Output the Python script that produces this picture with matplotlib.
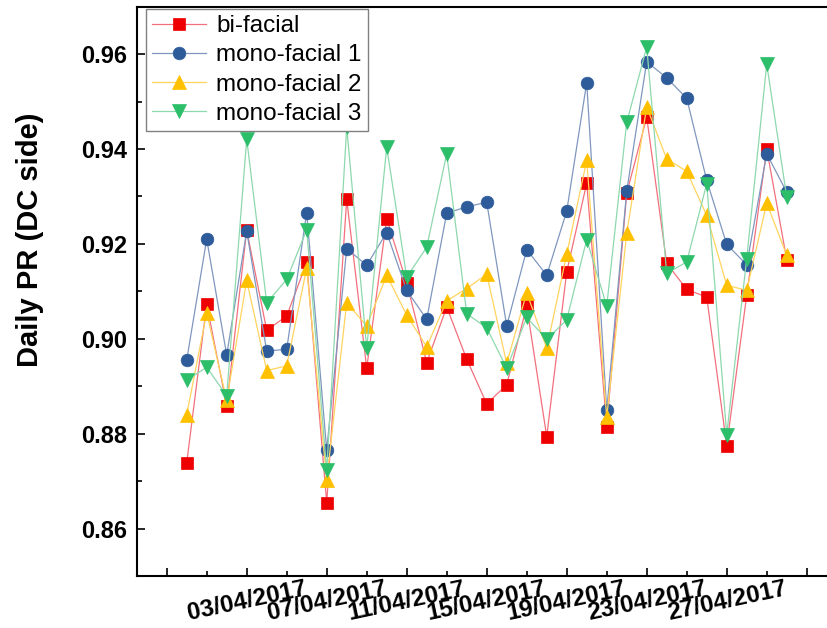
import matplotlib
matplotlib.use("Agg")
import matplotlib.pyplot as plt
import matplotlib.dates as mdates
from matplotlib.ticker import FixedLocator, MultipleLocator, FormatStrFormatter
import pandas as pd

plt.rcParams['font.family'] = ['Liberation Sans', 'DejaVu Sans']

# Daily performance ratio, 31/03/2017 - 30/04/2017
dates = pd.date_range("2017-03-31", "2017-04-30", freq="D")

bi_facial = [0.8738, 0.9073, 0.8859, 0.9229, 0.9018, 0.9048, 0.9161, 0.8654,
             0.9294, 0.8938, 0.9253, 0.9118, 0.8950, 0.9067, 0.8957, 0.8863,
             0.8903, 0.9069, 0.8794, 0.9141, 0.9328, 0.8814, 0.9307, 0.9467,
             0.9159, 0.9104, 0.9088, 0.8775, 0.9092, 0.9400, 0.9167]
mono_facial_1 = [0.8955, 0.9210, 0.8966, 0.9227, 0.8974, 0.8978, 0.9266, 0.8765,
                 0.9190, 0.9155, 0.9224, 0.9102, 0.9041, 0.9265, 0.9278, 0.9288,
                 0.9027, 0.9188, 0.9134, 0.9269, 0.9540, 0.8849, 0.9311, 0.9584,
                 0.9550, 0.9507, 0.9334, 0.9199, 0.9156, 0.9390, 0.9309]
mono_facial_2 = [0.8840, 0.9055, 0.8870, 0.9123, 0.8933, 0.8943, 0.9149, 0.8703,
                 0.9076, 0.9027, 0.9134, 0.9050, 0.8983, 0.9080, 0.9106, 0.9136,
                 0.8948, 0.9097, 0.8980, 0.9178, 0.9376, 0.8835, 0.9222, 0.9489,
                 0.9379, 0.9353, 0.9260, 0.9113, 0.9102, 0.9286, 0.9176]
mono_facial_3 = [0.8913, 0.8940, 0.8880, 0.9421, 0.9076, 0.9125, 0.9230, 0.8723,
                 0.9446, 0.8980, 0.9404, 0.9130, 0.9193, 0.9390, 0.9053, 0.9023,
                 0.8938, 0.9045, 0.8999, 0.9040, 0.9209, 0.9069, 0.9456, 0.9615,
                 0.9138, 0.9162, 0.9327, 0.8798, 0.9169, 0.9579, 0.9299]

series_labels = ["bi-facial", "mono-facial 1", "mono-facial 2", "mono-facial 3"]

# Axis ticks
major_tick_dates = pd.date_range("2017-03-30", "2017-05-01", freq="4D")
major_tick_labels = ["", "03/04/2017", "07/04/2017", "11/04/2017", "15/04/2017",
                     "19/04/2017", "23/04/2017", "27/04/2017", ""]
minor_tick_dates = pd.date_range("2017-04-01", "2017-04-30", freq="4D")
y_major_ticks = [0.86, 0.88, 0.90, 0.92, 0.94, 0.96]

W, H = 827, 628
fig = plt.figure(figsize=(W / 100, H / 100), dpi=100)
ax = fig.add_axes([136.7 / W, 52 / H, (W - 136.7) / W, 569.3 / H])

styles = [
    dict(marker='s', ms=8.2, color='#F2707C', mfc='#EE0000', mec='#EE0000'),
    dict(marker='o', ms=9.1, color='#7F97BF', mfc='#2E5C9A', mec='#2E5C9A'),
    dict(marker='^', ms=10.6, color='#FFD45E', mfc='#FFC000', mec='#FFC000'),
    dict(marker='v', ms=10.6, color='#8ED8AE', mfc='#2DBE6A', mec='#2DBE6A'),
]
for values, label, st in zip([bi_facial, mono_facial_1, mono_facial_2, mono_facial_3],
                             series_labels, styles):
    ax.plot(dates, values, lw=0.9, mew=0.5, label=label, **st)

ax.set_xlim(pd.Timestamp("2017-03-28 12:00"), pd.Timestamp("2017-05-02 00:20"))
ax.set_ylim(0.85, 0.97)

ax.xaxis.set_major_locator(FixedLocator(mdates.date2num(major_tick_dates)))
ax.xaxis.set_minor_locator(FixedLocator(mdates.date2num(minor_tick_dates)))
ax.set_xticklabels(major_tick_labels, rotation=12, ha='center',
                   fontsize=17.5, fontweight='bold')

ax.yaxis.set_major_locator(FixedLocator(y_major_ticks))
ax.yaxis.set_minor_locator(MultipleLocator(0.01))
ax.yaxis.set_major_formatter(FormatStrFormatter('%.2f'))
for t in ax.get_yticklabels():
    t.set_fontsize(17)
    t.set_fontweight('bold')

ax.tick_params(which='both', direction='in', width=1.2, color='black')
ax.tick_params(which='major', length=6, pad=7)
ax.tick_params(which='minor', length=3.5)
ax.tick_params(axis='x', which='major', pad=1)

for side in ['left', 'bottom', 'top']:
    ax.spines[side].set_linewidth(1.5)
ax.spines['right'].set_visible(False)

fig.text(30 / W, 1 - 240 / H, "Daily PR (DC side)", rotation=90, ha='center',
         va='center', fontsize=21, fontweight='bold')

leg = ax.legend(loc='upper left', bbox_to_anchor=(146 / W, 1 - 9 / H),
                bbox_transform=fig.transFigure, borderaxespad=0, fontsize=17.5,
                frameon=True, fancybox=False, framealpha=1, edgecolor='#808080',
                labelspacing=0.3, borderpad=0.25, handlelength=2.2,
                handletextpad=0.45)
leg.get_frame().set_linewidth(1.0)

fig.savefig("out.png", dpi=100)
